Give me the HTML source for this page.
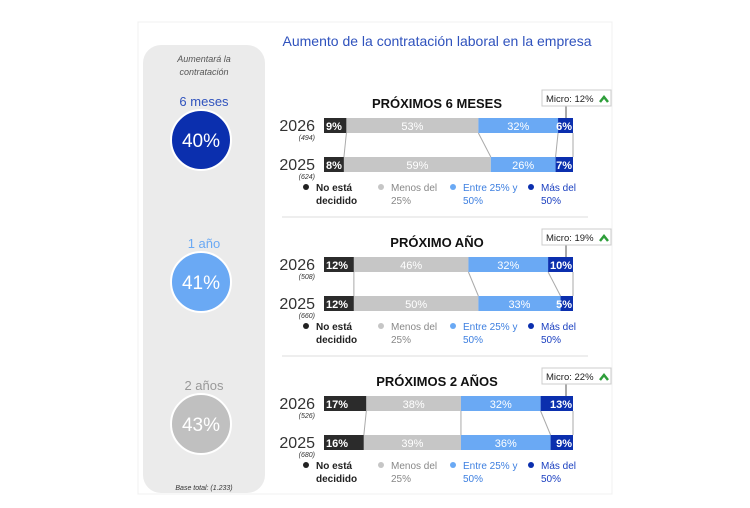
<!DOCTYPE html>
<html><head><meta charset="utf-8"><style>
body{margin:0;background:#fff;}
svg{display:block;font-family:"Liberation Sans",sans-serif;}
</style></head><body>
<svg id="c" width="750" height="508">
<rect x="138" y="22" width="474" height="472" fill="#fff" stroke="#f0f0f0"/>
<rect x="143" y="45" width="122" height="448" rx="18" fill="#ebebeb"/>
<text x="204" y="62" font-size="9" font-style="italic" fill="#555" text-anchor="middle">Aumentará la</text>
<text x="204" y="75" font-size="9" font-style="italic" fill="#555" text-anchor="middle">contratación</text>
<text x="204" y="490" font-size="7" font-style="italic" fill="#333" text-anchor="middle">Base total: (1.233)</text>
<text x="437" y="46" font-size="14" fill="#2f52bd" text-anchor="middle">Aumento de la contratación laboral en la empresa</text>
<g id="g"></g>
</svg>
<script>
const periods=["PRÓXIMOS 6 MESES","PRÓXIMO AÑO","PRÓXIMOS 2 AÑOS"];
const summaryLabels=["6 meses","1 año","2 años"];
const summaryValues=[40,41,43];
const micro=[12,19,22];
const years=["2026","2025"];
const bases=[["(494)","(624)"],["(508)","(660)"],["(526)","(680)"]];
const vals2026=[[9,53,32,6],[12,46,32,10],[17,38,32,13]];
const vals2025=[[8,59,26,7],[12,50,33,5],[16,39,36,9]];
const legend=[["No está","decidido"],["Menos del","25%"],["Entre 25% y","50%"],["Más del","50%"]];
const cols=["#2b2b2b","#c6c6c6","#6aa9f4","#0b2fae"];
const lcols=["#222","#888","#3d7fe0","#1a3fc0"];
const sumCols=["#0b2fae","#6aa9f4","#c0c0c0"];
const sumTxt=["#2f52bd","#6aa9f4","#999"];
const NS="http://www.w3.org/2000/svg",g=document.getElementById("g");
function el(t,a,txt){const e=document.createElementNS(NS,t);for(const k in a)e.setAttribute(k,a[k]);if(txt!=null)e.textContent=txt;g.appendChild(e);return e;}
const X0=324,W=249,xs=v=>X0+v/100*W;
periods.forEach((p,s)=>{
 const oy=s*139, sy=s*142;
 let e=el("text",{x:204,y:106+sy,"font-size":13,fill:sumTxt[s],"text-anchor":"middle"},summaryLabels[s]);
 
 e=el("circle",{cx:201,cy:140+sy,r:30,fill:sumCols[s],stroke:"#fff","stroke-width":2});
 
 e=el("text",{x:201,y:147+sy,"font-size":19,fill:"#fff","text-anchor":"middle"},summaryValues[s]+"%");
 
 e=el("text",{x:437,y:108+oy,"font-size":13,"font-weight":"bold",fill:"#111","text-anchor":"middle"},p);
 
 if(s>0){e=el("line",{x1:282,x2:588,y1:78+oy,y2:78+oy,stroke:"#ddd"});}
 const rows=[vals2026[s],vals2025[s]];
 let a=0,b=0;
 for(let i=0;i<4;i++){a+=rows[0][i];b+=rows[1][i];
  e=el("line",{x1:xs(a),y1:133+oy,x2:xs(b),y2:157+oy,stroke:"#aaa","stroke-width":1});
  }
 rows.forEach((r,ri)=>{
  const y=118+oy+ri*39;
  e=el("text",{x:315,y:y+13,"font-size":16,fill:"#333","text-anchor":"end"},years[ri]);
  
  e=el("text",{x:315,y:y+22,"font-size":7,"font-style":"italic",fill:"#333","text-anchor":"end"},bases[s][ri]);
  
  let c=0;
  r.forEach((v,i)=>{
   e=el("rect",{x:xs(c),y:y,width:xs(c+v)-xs(c),height:15,fill:cols[i]});
   
   const tx=i==0?xs(c)+2:i==3?xs(c+v)-1:(xs(c)+xs(c+v))/2;
   e=el("text",{x:tx,y:y+12,"font-size":11,fill:"#fff","text-anchor":i==0?"start":i==3?"end":"middle","font-weight":i==0||i==3?"bold":"normal"},v+"%");
   
   c+=v;});
 });
 const bx=xs(100)-30;
 e=el("line",{x1:bx+23,y1:106+oy,x2:bx+23,y2:118+oy,stroke:"#555"});
 e=el("rect",{x:bx-1,y:90+oy,width:69,height:16,fill:"#fff",stroke:"#ccc"});
 e=el("text",{x:bx+3,y:102+oy,"font-size":9.5,fill:"#222"},"Micro: "+micro[s]+"%");
 e=el("path",{d:`M${bx+57} ${102+oy} l4 -5 l4 5`,stroke:"#2e9e3a","stroke-width":2.5,fill:"none"});
 const lx=[306,381,453,531];
 legend.forEach((l,i)=>{
  e=el("circle",{cx:lx[i],cy:187+oy,r:3,fill:i==0?"#222":cols[i]});
  e=el("text",{x:lx[i]+10,y:191+oy,"font-size":10,fill:lcols[i],"font-weight":i==0?"bold":"normal"},l[0]);
  e=el("text",{x:lx[i]+10,y:204+oy,"font-size":10,fill:lcols[i],"font-weight":i==0?"bold":"normal"},l[1]);
 });
});
</script>
</body></html>
